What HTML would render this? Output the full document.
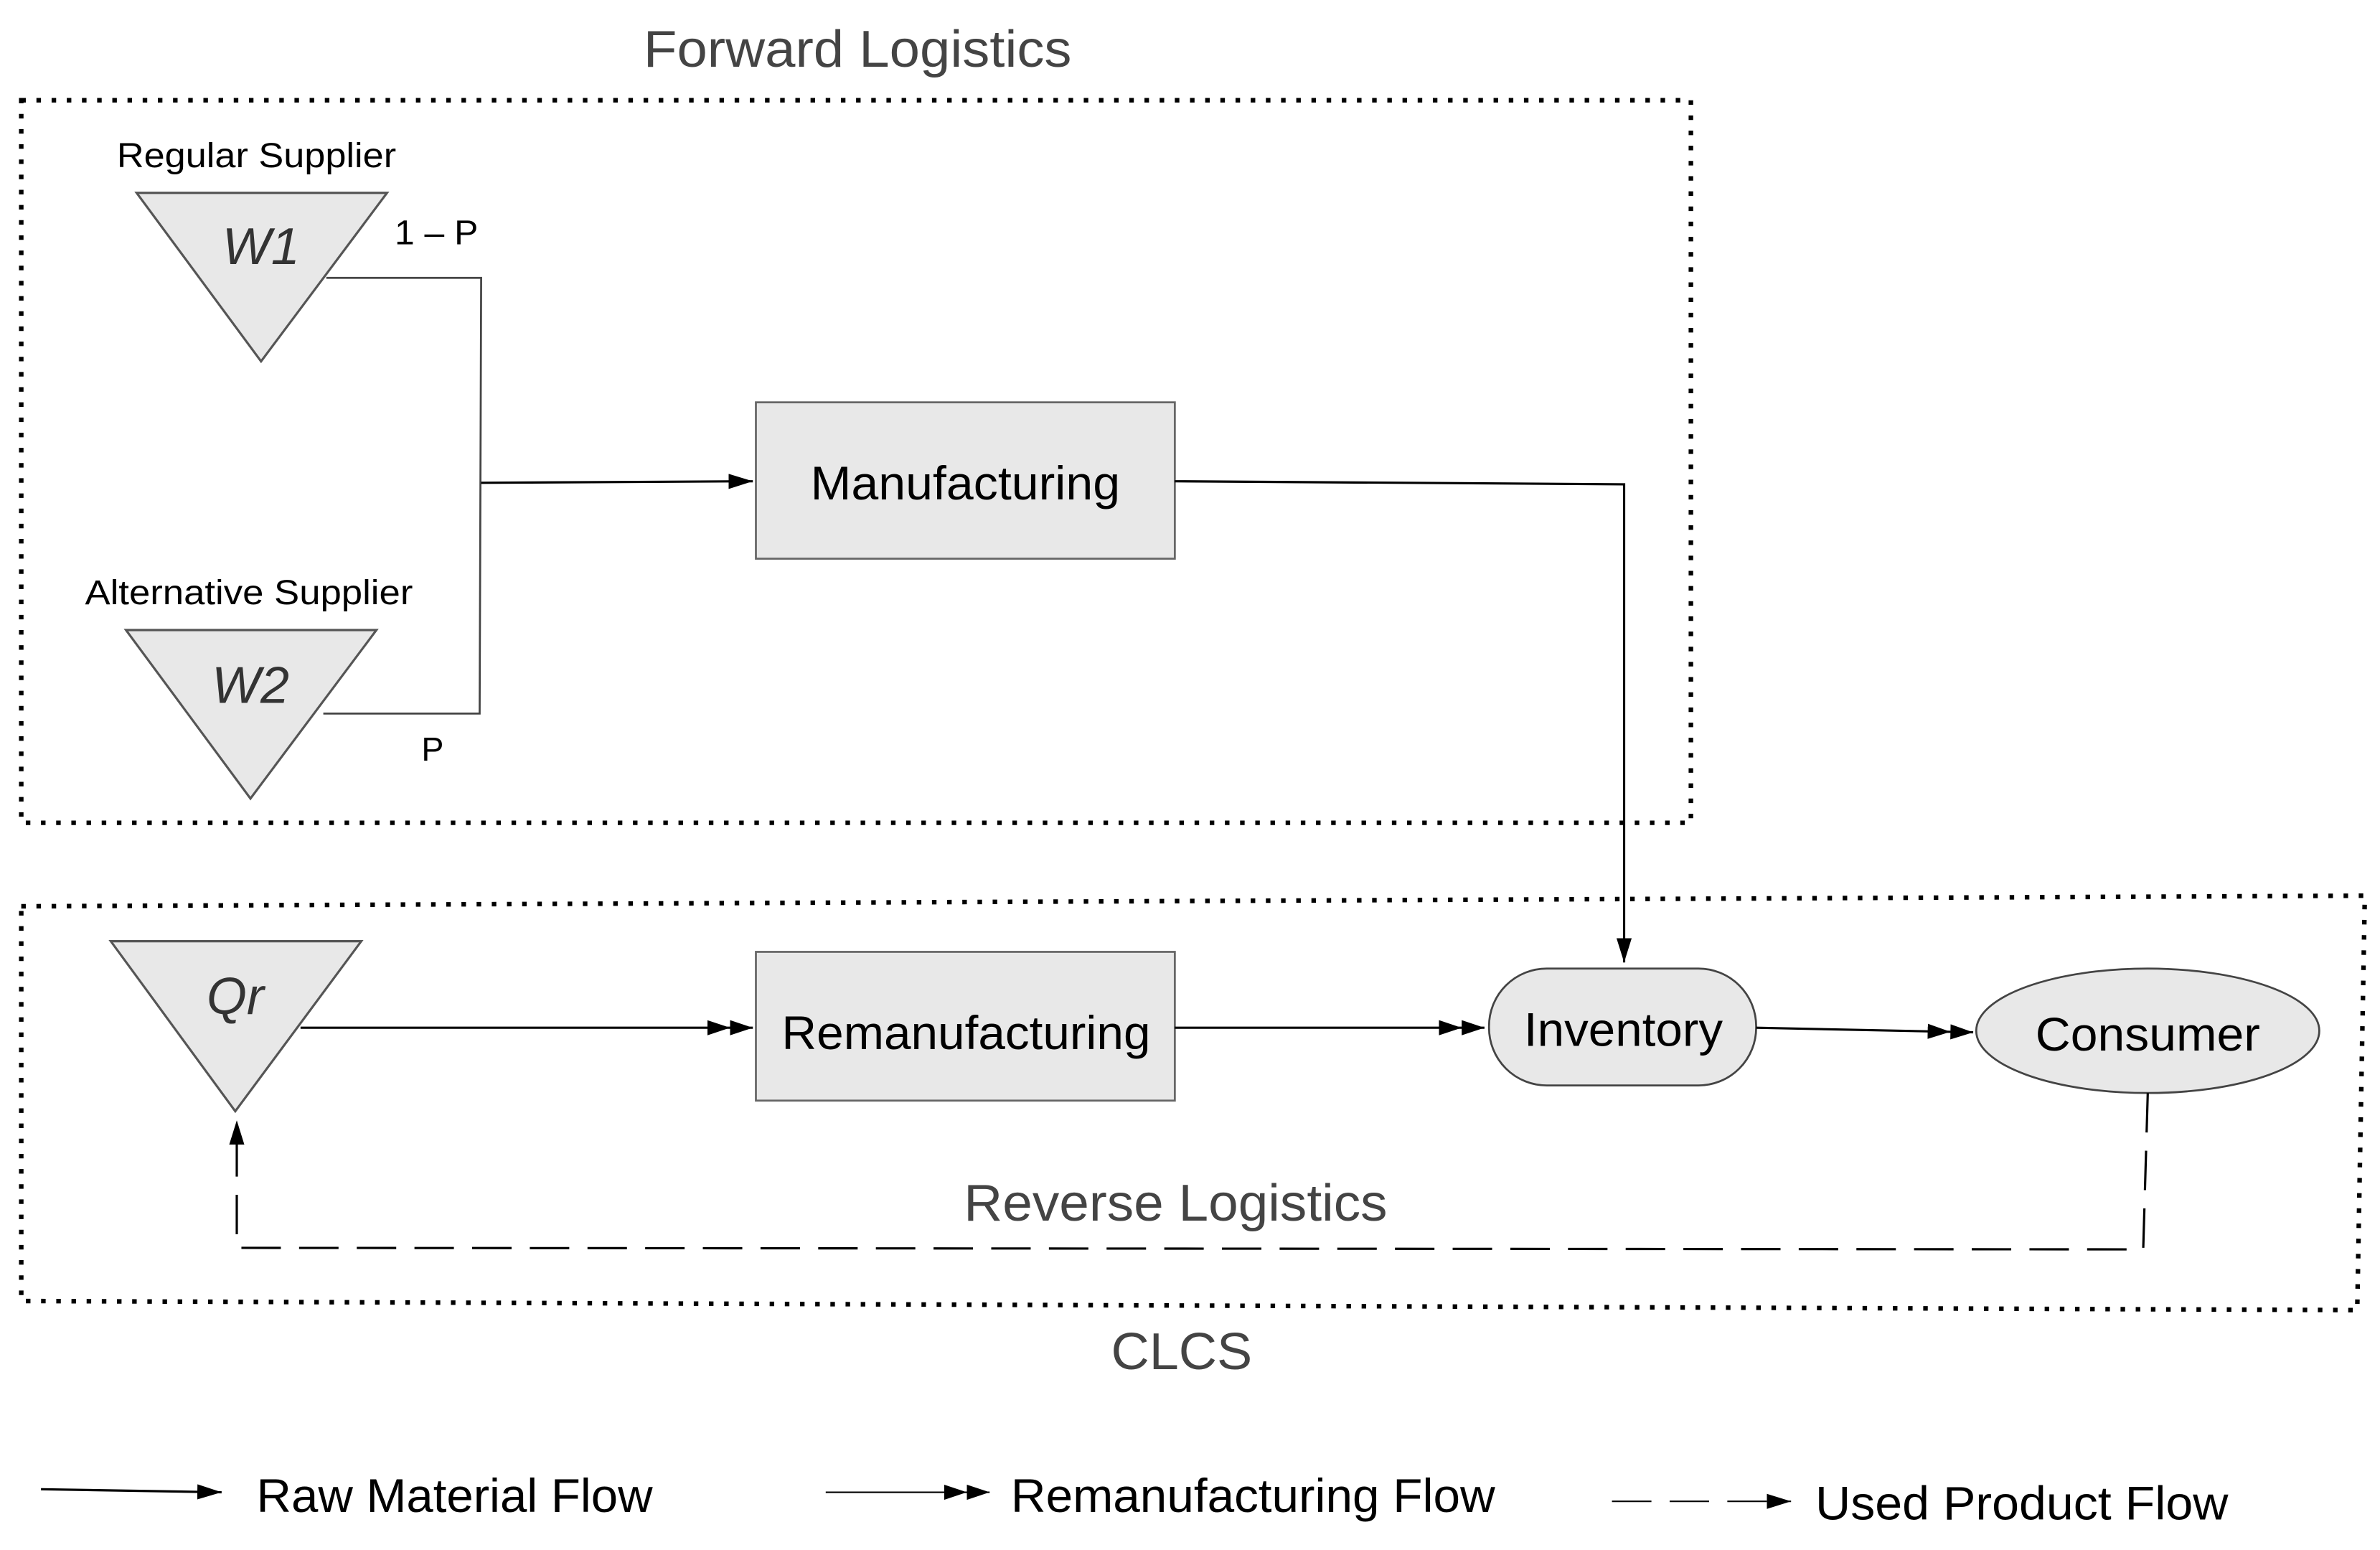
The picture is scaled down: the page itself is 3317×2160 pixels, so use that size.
<!DOCTYPE html>
<html><head><meta charset="utf-8"><style>
html,body{margin:0;padding:0;background:#fff;}
svg{display:block;}
text{font-family:"Liberation Sans",sans-serif;}
</style></head><body>
<svg width="3317" height="2160" viewBox="0 0 1568 1021" xmlns="http://www.w3.org/2000/svg">
<defs>
<marker id="a" markerWidth="16" markerHeight="10" refX="16" refY="5" orient="auto" markerUnits="userSpaceOnUse">
<path d="M0,0 L16,5 L0,10 Z" fill="#000"/></marker>
<marker id="d" markerWidth="30" markerHeight="10" refX="30" refY="5" orient="auto" markerUnits="userSpaceOnUse">
<path d="M0,0 L15,5 L0,10 Z M15,0 L30,5 L15,10 Z" fill="#000"/></marker>
</defs>
<rect width="1568" height="1021" fill="#fff"/>
<text x="424" y="44" font-size="34" fill="#444" textLength="282" lengthAdjust="spacingAndGlyphs">Forward Logistics</text>
<path d="M14,66 L1114,66 L1114,542 L14,542 Z" fill="none" stroke="#000" stroke-width="3" stroke-dasharray="3,7"/>
<path d="M14,597 L1558,590 L1553,863 L14,857 Z" fill="none" stroke="#000" stroke-width="3" stroke-dasharray="3,7"/>

<text x="77" y="110" font-size="23" textLength="184" lengthAdjust="spacingAndGlyphs">Regular Supplier</text>
<polygon points="90,127 255,127 172,238" fill="#e8e8e8" stroke="#555" stroke-width="1.5"/>
<text x="172" y="174" font-size="34" font-style="italic" fill="#333" text-anchor="middle">W1</text>
<text x="260" y="161" font-size="23" textLength="55" lengthAdjust="spacingAndGlyphs">1 – P</text>

<text x="56" y="398" font-size="23" textLength="216" lengthAdjust="spacingAndGlyphs">Alternative Supplier</text>
<polygon points="83,415 248,415 165,526" fill="#e8e8e8" stroke="#555" stroke-width="1.5"/>
<text x="165" y="463" font-size="34" font-style="italic" fill="#333" text-anchor="middle">W2</text>
<text x="285" y="501" font-size="22" text-anchor="middle">P</text>

<polyline points="215,183 317,183 316,470 213,470" fill="none" stroke="#444" stroke-width="1.3"/>
<line x1="317" y1="318" x2="496" y2="317" stroke="#000" stroke-width="1.5" marker-end="url(#a)"/>
<rect x="498" y="265" width="276" height="103" fill="#e8e8e8" stroke="#666" stroke-width="1.3"/>
<text x="534" y="329" font-size="31" textLength="204" lengthAdjust="spacingAndGlyphs">Manufacturing</text>
<polyline points="774,317 1070,319 1070,634" fill="none" stroke="#000" stroke-width="1.5" marker-end="url(#a)"/>

<polygon points="73,620 238,620 155,732" fill="#e8e8e8" stroke="#555" stroke-width="1.5"/>
<text x="155" y="668" font-size="34" font-style="italic" fill="#333" text-anchor="middle">Qr</text>
<line x1="198" y1="677" x2="496" y2="677" stroke="#000" stroke-width="1.5" marker-end="url(#d)"/>
<rect x="498" y="627" width="276" height="98" fill="#e8e8e8" stroke="#666" stroke-width="1.3"/>
<text x="515" y="691" font-size="31" textLength="243" lengthAdjust="spacingAndGlyphs">Remanufacturing</text>
<line x1="774" y1="677" x2="978" y2="677" stroke="#000" stroke-width="1.5" marker-end="url(#d)"/>
<rect x="981" y="638" width="176" height="77" rx="38" fill="#e8e8e8" stroke="#444" stroke-width="1.3"/>
<text x="1004" y="689" font-size="31" textLength="131" lengthAdjust="spacingAndGlyphs">Inventory</text>
<line x1="1157" y1="677" x2="1300" y2="680" stroke="#000" stroke-width="1.5" marker-end="url(#d)"/>
<ellipse cx="1415" cy="679" rx="113" ry="41" fill="#e8e8e8" stroke="#444" stroke-width="1.3"/>
<text x="1341" y="692" font-size="31" textLength="148" lengthAdjust="spacingAndGlyphs">Consumer</text>
<polyline points="1415,720 1412,823 156,822 156,738" fill="none" stroke="#000" stroke-width="1.5" stroke-dasharray="26,12" marker-end="url(#a)"/>
<text x="635" y="804" font-size="34" fill="#444" textLength="279" lengthAdjust="spacingAndGlyphs">Reverse Logistics</text>
<text x="732" y="902" font-size="34" fill="#444" textLength="93" lengthAdjust="spacingAndGlyphs">CLCS</text>

<line x1="27" y1="981" x2="146" y2="983" stroke="#000" stroke-width="1.5" marker-end="url(#a)"/>
<text x="169" y="996" font-size="31" textLength="261" lengthAdjust="spacingAndGlyphs">Raw Material Flow</text>
<line x1="544" y1="983" x2="652" y2="983" stroke="#000" stroke-width="1" marker-end="url(#d)"/>
<text x="666" y="996" font-size="31" textLength="319" lengthAdjust="spacingAndGlyphs">Remanufacturing Flow</text>
<line x1="1062" y1="989" x2="1180" y2="989" stroke="#000" stroke-width="1" stroke-dasharray="26,12" marker-end="url(#a)"/>
<text x="1196" y="1001" font-size="31" textLength="272" lengthAdjust="spacingAndGlyphs">Used Product Flow</text>
</svg>
</body></html>
